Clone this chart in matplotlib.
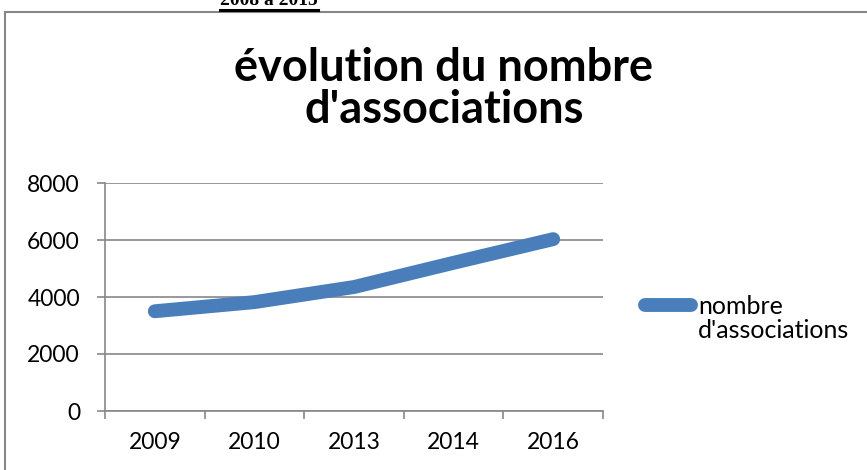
import matplotlib.pyplot as plt
from matplotlib.patches import Rectangle
from matplotlib.lines import Line2D

years = ["2009", "2010", "2013", "2014", "2016"]
associations = [3500, 3820, 4350, 5200, 6030]
y_ticks = [0, 2000, 4000, 6000, 8000]

title = "évolution du nombre\nd'associations"
series_name = "nombre"
series_name_2 = "d'associations"
top_caption = "2008 à 2015"

plt.rcParams["font.family"] = ["Lato", "DejaVu Sans"]
grey = "#878787"
blue = "#4A7EBB"

fig = plt.figure(figsize=(8.67, 4.70), dpi=100)
W, H = 867, 470

# outer chart border (extends past right and bottom of the crop)
fig.patches.append(Rectangle((5 / W, -0.1), 1.2, 1.1 - 12 / H, transform=fig.transFigure,
                             fill=False, edgecolor=grey, lw=1.5))

# clipped caption from the page above
fig.text(269 / W, 1 - 5 / H, top_caption, ha="center", va="baseline",
         family="Liberation Serif", weight="bold", fontsize=14)
fig.lines.append(Line2D([220 / W, 318 / W], [1 - 9.5 / H, 1 - 9.5 / H],
                        transform=fig.transFigure, color="black", lw=2.2))

ax = fig.add_axes([105 / W, 1 - 411 / H, (603 - 105) / W, (411 - 183) / H])
x = list(range(len(years)))
ax.plot(x, associations, color=blue, lw=10, solid_capstyle="round",
        solid_joinstyle="round", zorder=3)

ax.set_xlim(-0.5, len(years) - 0.5)
ax.set_ylim(0, 8000)
ax.set_yticks(y_ticks)
ax.set_yticklabels([str(v) for v in y_ticks])
ax.set_xticks(x)
ax.set_xticklabels(years)
ax.set_xticks([i - 0.5 for i in range(len(years) + 1)], minor=True)
ax.tick_params(axis="x", which="major", length=0, pad=15, labelsize=16.5)
ax.tick_params(axis="x", which="minor", length=6, width=1.2, color=grey, direction="out")
ax.tick_params(axis="y", length=6, width=1.2, color=grey, pad=12, labelsize=16.5)

ax.grid(axis="y", color=grey, lw=1.2)
ax.set_axisbelow(True)
for side in ["top", "right"]:
    ax.spines[side].set_visible(False)
for side in ["left", "bottom"]:
    ax.spines[side].set_color(grey)
    ax.spines[side].set_linewidth(1.2)

fig.text(444 / W, 1 - 123 / H, title, ha="center", va="baseline",
         fontsize=32.5, weight="bold", linespacing=1.0)

leg = ax.legend([series_name], loc="upper left", bbox_to_anchor=(632 / W, 1 - 282 / H),
                bbox_transform=fig.transFigure, frameon=False, handlelength=1.85,
                handletextpad=0.32, borderpad=0, fontsize=18)
fig.text(698 / W, 1 - 338 / H, series_name_2, fontsize=18, va="baseline")

fig.savefig("out.png", dpi=100)
